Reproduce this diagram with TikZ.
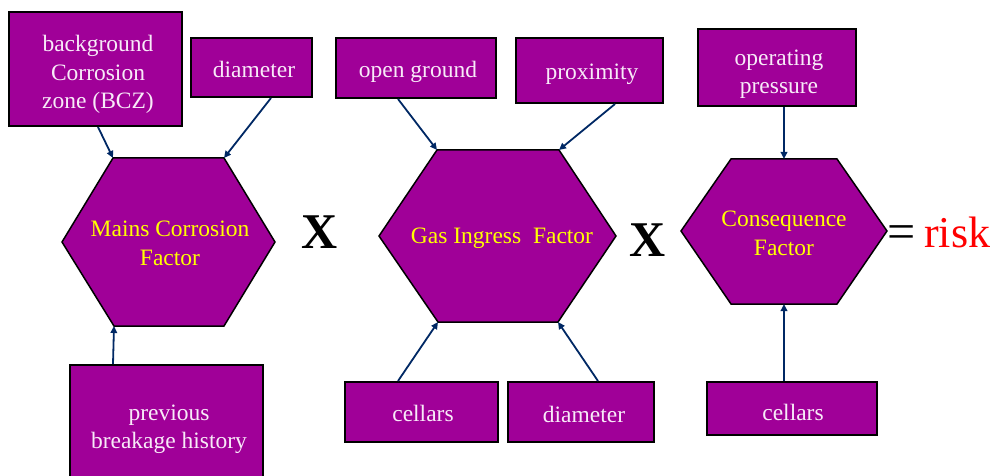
\documentclass[tikz,border=0pt]{standalone}
\usepackage{fontspec}
\setmainfont{Liberation Serif}
\usetikzlibrary{arrows.meta,calc}
\definecolor{boxpurple}{RGB}{160,0,152}
\definecolor{boxtext}{RGB}{248,234,248}
\definecolor{hextext}{RGB}{255,255,0}
\definecolor{arrownavy}{RGB}{0,40,100}
\definecolor{riskred}{RGB}{255,0,0}
\begin{document}
\begin{tikzpicture}[x=1pt,y=-1pt,
 inbox/.style={draw=black,line width=2pt,fill=boxpurple,inner sep=0pt},
 boxlabel/.style={text=boxtext,align=center,inner sep=0pt,font=\fontsize{23.5}{28.5}\selectfont},
 hexfill/.style={draw=black,line width=1.5pt,fill=boxpurple,line join=miter},
 hexlabel/.style={text=hextext,align=center,inner sep=0pt,font=\fontsize{23.5}{29}\selectfont},
 feed/.style={draw=arrownavy,line width=1.8pt,-{Triangle[length=7pt,width=6.5pt]}},
 mathsign/.style={inner sep=0pt,font=\fontsize{50}{50}\selectfont\bfseries}]
\useasboundingbox (0,0) rectangle (996,476);

% hexagon 1
\coordinate (h1l) at (62,242);
\coordinate (h1tl) at (113,158);
\coordinate (h1tr) at (224,158);
\coordinate (h1r) at (275,242);
\coordinate (h1br) at (224,326);
\coordinate (h1bl) at (114,326);
\draw[hexfill] (h1l)--(h1tl)--(h1tr)--(h1r)--(h1br)--(h1bl)--cycle;
\node[hexlabel] (mcf) at (170,243) {Mains Corrosion\\Factor};

% hexagon 2
\coordinate (h2l) at (379,236);
\coordinate (h2tl) at (437,150);
\coordinate (h2tr) at (559,150);
\coordinate (h2r) at (616,236);
\coordinate (h2br) at (558,322);
\coordinate (h2bl) at (438,322);
\draw[hexfill] (h2l)--(h2tl)--(h2tr)--(h2r)--(h2br)--(h2bl)--cycle;
\node[hexlabel] (gif) at (502,238) {Gas Ingress\ \ Factor};

% hexagon 3
\coordinate (h3l) at (681,231);
\coordinate (h3tl) at (731,159);
\coordinate (h3tr) at (837,159);
\coordinate (h3r) at (887,231);
\coordinate (h3br) at (837,304);
\coordinate (h3bl) at (731,304);
\coordinate (h3tn) at (784,159);
\coordinate (h3bn) at (784,304);
\draw[hexfill] (h3l)--(h3tl)--(h3tr)--(h3r)--(h3br)--(h3bl)--cycle;
\node[hexlabel] (cf) at (784,233) {Consequence\\Factor};

% boxes
\node[inbox,minimum width=173pt,minimum height=114pt] (bcz) at (95.5,69) {};
\node[boxlabel] (bczt) at (98,74.5) {background\\Corrosion\\zone (BCZ)};
\node[inbox,minimum width=121pt,minimum height=59pt] (dia1) at (251.5,67.5) {};
\node[boxlabel] (dia1t) at (254,69.5) {diameter};
\node[inbox,minimum width=193pt,minimum height=122pt] (prev) at (166.5,426) {};
\node[boxlabel] (prevt) at (169,429.5) {previous\\breakage history};
\node[inbox,minimum width=160pt,minimum height=60pt] (og) at (416,68) {};
\node[boxlabel] (ogt) at (418,72) {open ground};
\node[inbox,minimum width=147pt,minimum height=65pt] (prox) at (589.5,70.5) {};
\node[boxlabel] (proxt) at (592,74) {proximity};
\node[inbox,minimum width=153pt,minimum height=60pt] (cel2) at (421.5,412) {};
\node[boxlabel] (cel2t) at (423,413) {cellars};
\node[inbox,minimum width=146pt,minimum height=60pt] (dia2) at (581,412) {};
\node[boxlabel] (dia2t) at (584,414) {diameter};
\node[inbox,minimum width=158pt,minimum height=77pt] (press) at (777,67.5) {};
\node[boxlabel] (presst) at (779,74) {operating\\pressure};
\node[inbox,minimum width=170pt,minimum height=53pt] (cel3) at (792,408.5) {};
\node[boxlabel] (cel3t) at (793,412) {cellars};

% operators
\node[mathsign] (x1) at (320,232) {X};
\node[mathsign] (x2) at (648,240) {X};
\node[inner sep=0pt,anchor=base,font=\fontsize{50}{50}\selectfont] (eq) at (902,248) {=};
\node[inner sep=0pt,anchor=base west,text=riskred,font=\fontsize{44}{44}\selectfont] (risk) at (924,247) {risk};

% connectors
\draw[feed] ([xshift=2.5pt]bcz.south) -- (h1tl);
\draw[feed] ([xshift=19.5pt]dia1.south) -- (h1tr);
\draw[feed] ([xshift=-53.5pt]prev.north) -- (h1bl);
\draw[feed] ([xshift=-18pt]og.south) -- (h2tl);
\draw[feed] ([xshift=25.5pt]prox.south) -- (h2tr);
\draw[feed] ([xshift=-23.5pt]cel2.north) -- (h2bl);
\draw[feed] ([xshift=17pt]dia2.north) -- (h2br);
\draw[feed] ([xshift=7pt]press.south) -- (h3tn);
\draw[feed] ([xshift=-8pt]cel3.north) -- (h3bn);
\end{tikzpicture}
\end{document}
